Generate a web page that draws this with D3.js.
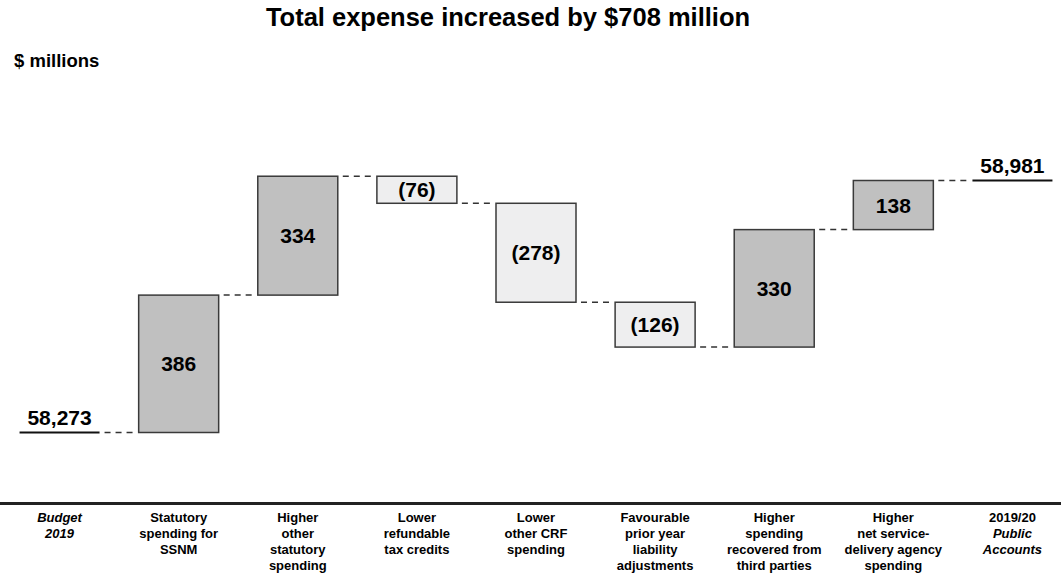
<!DOCTYPE html>
<html>
<head>
<meta charset="utf-8">
<script src="https://cdn.jsdelivr.net/npm/d3@7"></script>
<style>
  body { margin: 0; background: #ffffff; }
  text { font-family: "Liberation Sans", Arial, sans-serif; font-weight: bold; fill: #000; }
</style>
</head>
<body>
<div id="chart"></div>
<script>
// categories (each line of the label), italic flag per line
var categories = [
  [["Budget", true], ["2019", true]],
  [["Statutory"], ["spending for"], ["SSNM"]],
  [["Higher"], ["other"], ["statutory"], ["spending"]],
  [["Lower"], ["refundable"], ["tax credits"]],
  [["Lower"], ["other CRF"], ["spending"]],
  [["Favourable"], ["prior year"], ["liability"], ["adjustments"]],
  [["Higher"], ["spending"], ["recovered from"], ["third parties"]],
  [["Higher"], ["net service-"], ["delivery agency"], ["spending"]],
  [["2019/20"], ["Public", true], ["Accounts", true]]
];
var startTotal = 58273;
var changes = [386, 334, -76, -278, -126, 330, 138];
var endTotal = 58981;

function init()
{
  var w = 1061;
  var h = 573;

  var svg = d3.select("#chart")
              .append("svg")
              .attr("width", w)
              .attr("height", h);

  var x = d3.scaleBand()
            .domain(d3.range(categories.length))
            .range([0, 1072])
            .padding(0);
  var barW = 80;

  var y = d3.scaleLinear()
            .domain([startTotal, endTotal])
            .range([432.5, 180.5]);

  function cx(i) { return x(i) + x.bandwidth() / 2; }

  // build running totals
  var steps = [];
  var run = startTotal;
  changes.forEach(function(d, i){
    steps.push({i: i + 1, from: run, to: run + d, v: d});
    run += d;
  });

  // title
  svg.append("text")
     .attr("x", 508)
     .attr("y", 26)
     .attr("text-anchor", "middle")
     .style("font-size", "25.5px")
     .text("Total expense increased by $708 million");

  svg.append("text")
     .attr("x", 14)
     .attr("y", 67)
     .style("font-size", "18.5px")
     .text("$ millions");

  // connectors
  var levels = [startTotal].concat(steps.map(function(d){ return d.to; }));
  svg.selectAll("line.conn")
     .data(levels)
     .enter()
     .append("line")
     .attr("class", "conn")
     .attr("x1", function(d, i){ return cx(i) + barW / 2 + 5; })
     .attr("x2", function(d, i){ return cx(i + 1) - barW / 2 - 3; })
     .attr("y1", function(d){ return y(d); })
     .attr("y2", function(d){ return y(d); })
     .attr("stroke", "#333")
     .attr("stroke-width", 1.5)
     .attr("stroke-dasharray", "6,5");

  // bars
  svg.selectAll("rect.bar")
     .data(steps)
     .enter()
     .append("rect")
     .attr("class", "bar")
     .attr("x", function(d){ return cx(d.i) - barW / 2; })
     .attr("y", function(d){ return y(Math.max(d.from, d.to)); })
     .attr("width", barW)
     .attr("height", function(d){ return Math.abs(y(d.from) - y(d.to)); })
     .attr("fill", function(d){ return d.v > 0 ? "#c0c0c0" : "#eeeeef"; })
     .attr("stroke", "#3a3a3a")
     .attr("stroke-width", 1.5);

  svg.selectAll("text.val")
     .data(steps)
     .enter()
     .append("text")
     .attr("class", "val")
     .attr("x", function(d){ return cx(d.i); })
     .attr("y", function(d){ return (y(d.from) + y(d.to)) / 2; })
     .attr("dy", "0.36em")
     .attr("text-anchor", "middle")
     .style("font-size", "21px")
     .text(function(d){ return d.v < 0 ? "(" + (-d.v) + ")" : d.v; });

  // total markers
  var totals = [[0, startTotal], [categories.length - 1, endTotal]];
  svg.selectAll("line.tot")
     .data(totals)
     .enter()
     .append("line")
     .attr("x1", function(d){ return cx(d[0]) - barW / 2; })
     .attr("x2", function(d){ return cx(d[0]) + barW / 2; })
     .attr("y1", function(d){ return y(d[1]); })
     .attr("y2", function(d){ return y(d[1]); })
     .attr("stroke", "#111")
     .attr("stroke-width", 2);

  svg.selectAll("text.tot")
     .data(totals)
     .enter()
     .append("text")
     .attr("x", function(d){ return cx(d[0]); })
     .attr("y", function(d){ return y(d[1]) - 8; })
     .attr("text-anchor", "middle")
     .style("font-size", "21px")
     .text(function(d){ return d3.format(",")(d[1]); });

  // axis line
  svg.append("line")
     .attr("x1", 0).attr("x2", w)
     .attr("y1", 503.5).attr("y2", 503.5)
     .attr("stroke", "#222")
     .attr("stroke-width", 3);

  // category labels
  var lab = svg.selectAll("text.cat")
     .data(categories)
     .enter()
     .append("text")
     .attr("class", "cat")
     .attr("text-anchor", "middle")
     .style("font-size", "13px");

  lab.selectAll("tspan")
     .data(function(d, i){ return d.map(function(l){ return {t: l[0], it: l[1], i: i}; }); })
     .enter()
     .append("tspan")
     .attr("x", function(d){ return cx(d.i); })
     .attr("y", function(d, j){ return 522 + j * 16; })
     .style("font-style", function(d){ return d.it ? "italic" : "normal"; })
     .text(function(d){ return d.t; });
}

window.onload = init;
</script>
</body>
</html>
